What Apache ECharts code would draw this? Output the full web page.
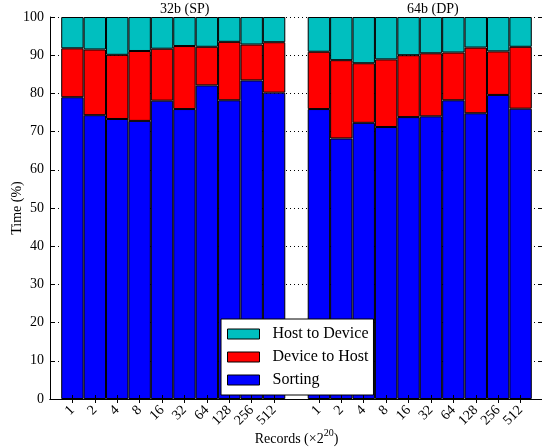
<!DOCTYPE html>
<html>
<head>
<meta charset="utf-8">
<script src="https://cdn.jsdelivr.net/npm/echarts@6/dist/echarts.min.js"></script>
<style>html,body{margin:0;padding:0;background:#fff;}#c{width:542px;height:447px;}</style>
</head>
<body>
<div id="c"></div>
<script>
const categories = ['1','2','4','8','16','32','64','128','256','512'];
const yTicks = [0,10,20,30,40,50,60,70,80,90,100];
const groupTitles = ['32b (SP)', '64b (DP)'];
const seriesNames = ['Host to Device', 'Device to Host', 'Sorting'];

const spSorting = [79.0, 74.3, 73.3, 72.8, 78.1, 75.9, 82.1, 78.2, 83.4, 80.2];
const spDevToHost = [12.8, 17.2, 16.8, 18.3, 13.6, 16.5, 10.1, 15.3, 9.4, 13.2];
const spHostToDev = [8.2, 8.5, 9.9, 8.9, 8.3, 7.6, 7.8, 6.5, 7.2, 6.6];

const dpSorting = [75.9, 68.2, 72.3, 71.2, 73.8, 74.0, 78.2, 74.8, 79.6, 76.0];
const dpDevToHost = [15.0, 20.5, 15.6, 17.7, 16.2, 16.5, 12.5, 17.2, 11.4, 16.2];
const dpHostToDev = [9.1, 11.3, 12.1, 11.1, 10.0, 9.5, 9.3, 8.0, 9.0, 7.8];

const FONT = '"Liberation Serif", "DejaVu Serif", serif';
const xData = [''].concat(categories, [''], categories, ['']);
const join = (a, b) => ['-'].concat(a, ['-'], b, ['-']);
const colors = {'Host to Device': '#00BFBF', 'Device to Host': '#FF0000', 'Sorting': '#0000FF'};
const dataMap = {
  'Sorting': join(spSorting, dpSorting),
  'Device to Host': join(spDevToHost, dpDevToHost),
  'Host to Device': join(spHostToDev, dpHostToDev)
};

const chart = echarts.init(document.getElementById('c'), null, {renderer: 'canvas'});
const tickInterval = (i, v) => v !== '';

const option = {
  animation: false,
  backgroundColor: '#fff',
  grid: {left: 50, top: 17, width: 493, height: 382, outerBoundsMode: 'none', containLabel: false},
  legend: {
    data: seriesNames,
    orient: 'vertical',
    left: 221, top: 319,
    padding: [7, 5, 7, 6],
    itemWidth: 32, itemHeight: 10, itemGap: 7, 
    backgroundColor: '#fff', borderColor: '#000', borderWidth: 1, borderRadius: 0,
    icon: 'rect',
    itemStyle: {borderColor: '#000', borderWidth: 1},
    textStyle: {fontFamily: FONT, fontSize: 16, color: '#000', padding: [0, 0, 0, 8]},
    z: 20
  },
  xAxis: [
    {
      type: 'category', data: xData, boundaryGap: false, position: 'bottom', z: 10,
      axisLine: {lineStyle: {color: '#000', width: 1}},
      axisTick: {inside: true, length: 4, interval: tickInterval, lineStyle: {color: '#000'}},
      axisLabel: {interval: 0, rotate: 45, margin: 9, fontFamily: FONT, fontSize: 14, color: '#000'},
      splitLine: {show: false},
      name: '{a|Records (×2}{b|20}{a|)}',
      nameLocation: 'middle', nameGap: 29, nameMoveOverlap: false,
      nameTextStyle: {
        rich: {
          a: {fontFamily: FONT, fontSize: 14, color: '#000', lineHeight: 18, verticalAlign: 'bottom'},
          b: {fontFamily: FONT, fontSize: 10, color: '#000', lineHeight: 18, verticalAlign: 'top'}
        }
      }
    },
    {
      type: 'category', data: xData, boundaryGap: false, position: 'top', z: 10,
      axisLine: {lineStyle: {color: '#000', width: 1}},
      axisTick: {inside: true, length: 4, interval: tickInterval, lineStyle: {color: '#000'}},
      axisLabel: {show: false},
      splitLine: {show: false}
    }
  ],
  yAxis: [
    {
      type: 'value', min: 0, max: 100, interval: 10, position: 'left', z: 10,
      axisLine: {show: true, lineStyle: {color: '#000', width: 1}},
      axisTick: {show: true, inside: true, length: 4, lineStyle: {color: '#000'}},
      axisLabel: {margin: 6, fontFamily: FONT, fontSize: 14, color: '#000',
        formatter: v => yTicks.indexOf(v) >= 0 ? String(v) : ''},
      splitLine: {show: false},
      name: 'Time (%)', nameLocation: 'middle', nameGap: 26, nameMoveOverlap: false,
      nameTextStyle: {fontFamily: FONT, fontSize: 14, color: '#000'}
    },
    {
      type: 'value', min: 0, max: 100, interval: 10, position: 'right', z: 0,
      axisLine: {show: false},
      axisTick: {show: true, inside: true, length: 4, lineStyle: {color: '#000'}},
      axisLabel: {show: false},
      splitLine: {show: true, lineStyle: {color: '#000', width: 1, type: [1, 3]}}
    }
  ],
  graphic: [
    {type: 'text', left: 190 - 30, top: 2, z: 20,
      style: {text: groupTitles[0], fontFamily: FONT, fontSize: 14, fill: '#000', width: 60, align: 'center'}},
    {type: 'text', left: 437 - 30, top: 2, z: 20,
      style: {text: groupTitles[1], fontFamily: FONT, fontSize: 14, fill: '#000', width: 60, align: 'center'}}
  ],
  series: ['Sorting', 'Device to Host', 'Host to Device'].map(name => ({
    name: name, type: 'bar', stack: 'total', xAxisIndex: 0, yAxisIndex: 0,
    data: dataMap[name], barCategoryGap: '0%', barGap: '0%',
    itemStyle: {color: colors[name], borderColor: '#000', borderWidth: 1},
    emphasis: {disabled: true}
  }))
};
chart.setOption(option);
</script>
</body>
</html>
